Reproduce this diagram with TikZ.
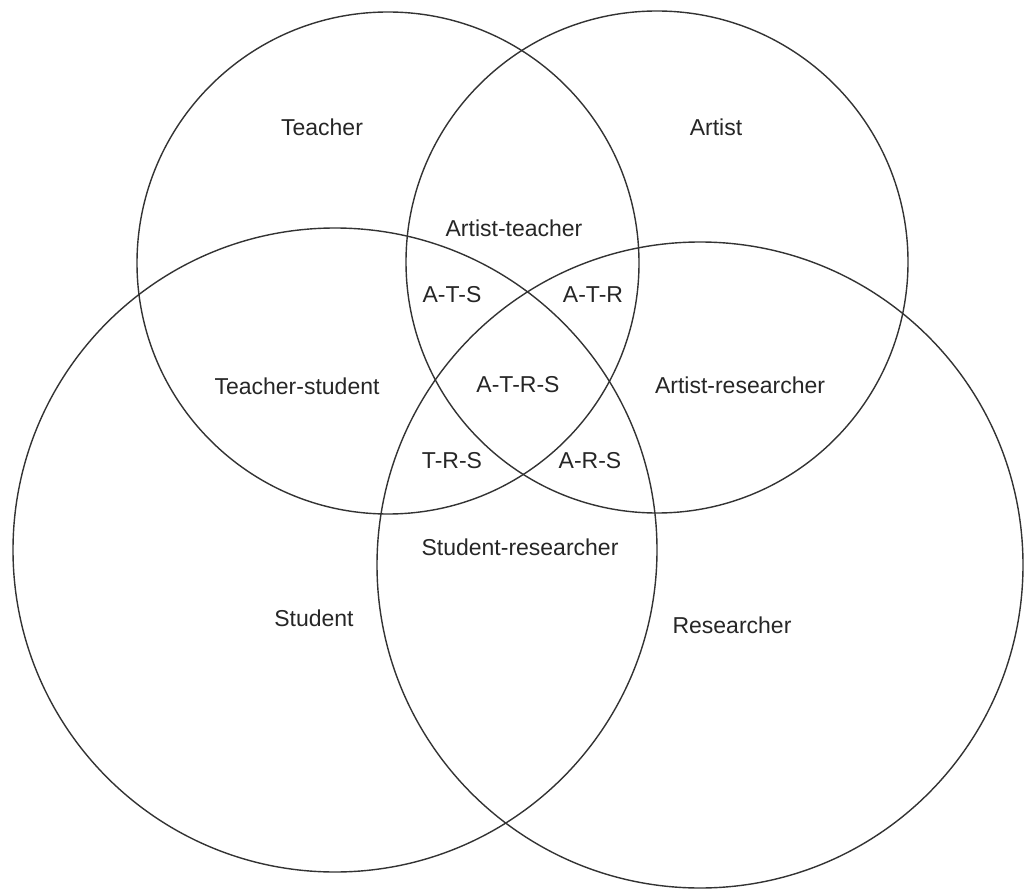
\documentclass[tikz,border=0pt]{standalone}
\usepackage{fontspec}
\setmainfont{Liberation Sans}
\begin{document}
\begin{tikzpicture}[x=1pt,y=-1pt,
  setcircle/.style={circle, draw=black!80, line width=1.4pt, inner sep=0pt, outer sep=0pt, minimum size=#1},
  lbl/.style={font=\fontsize{23}{27}\selectfont, text=black!85, inner sep=0pt}]
\useasboundingbox (0,0) rectangle (1025,890);
% the four sets
\node[setcircle=502pt] (T) at (388,263) {};
\node[setcircle=502pt] (A) at (657,262) {};
\node[setcircle=644pt] (S) at (335,550) {};
\node[setcircle=646pt] (R) at (700,565) {};
% region labels
\node[lbl] (lt)    at (322,127) {Teacher};
\node[lbl] (la)    at (716,127) {Artist};
\node[lbl] (lat)   at (514,228) {Artist-teacher};
\node[lbl] (lats)  at (452,295) {A-T-S};
\node[lbl] (latr)  at (593,295) {A-T-R};
\node[lbl] (lts)   at (297,386) {Teacher-student};
\node[lbl] (latrs) at (518,385) {A-T-R-S};
\node[lbl] (lar)   at (740,385) {Artist-researcher};
\node[lbl] (ltrs)  at (452,461) {T-R-S};
\node[lbl] (lars)  at (590,461) {A-R-S};
\node[lbl] (lsr)   at (520,547) {Student-researcher};
\node[lbl] (ls)    at (314,618) {Student};
\node[lbl] (lr)    at (732,625) {Researcher};
\end{tikzpicture}
\end{document}
